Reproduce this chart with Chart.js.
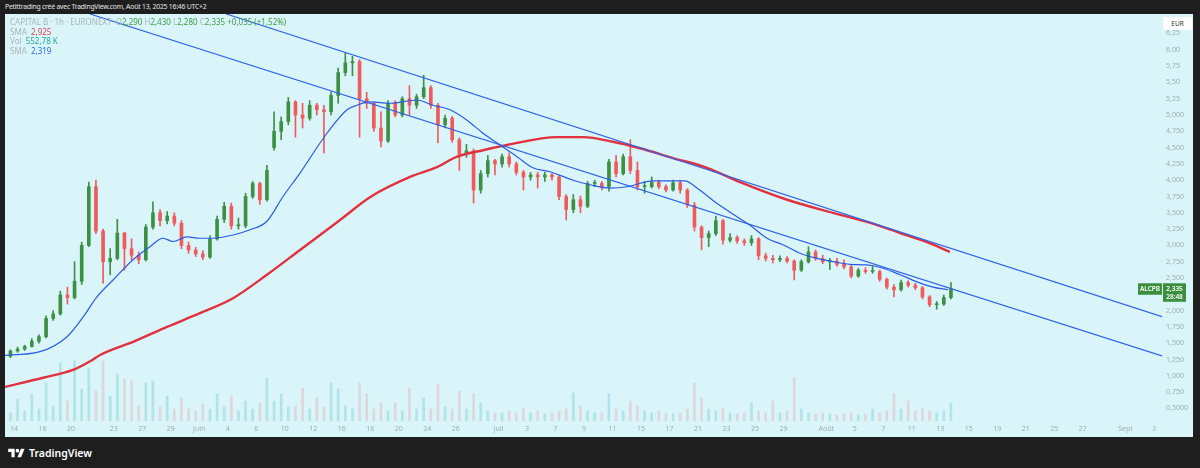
<!DOCTYPE html>
<html lang="fr">
<head>
<meta charset="utf-8">
<script src="https://cdn.jsdelivr.net/npm/chart.js@4.4.1/dist/chart.umd.min.js"></script>
<style>
  html, body { margin: 0; padding: 0; width: 1200px; height: 468px; overflow: hidden; background: #1e1e1e; font-family: 'Noto Sans', sans-serif; }
  #hdr { position: absolute; left: 5px; top: 2px; font-size: 6.8px; letter-spacing: -0.2px; color: #e8e8e8; white-space: nowrap; }
  #frame { position: absolute; left: 5px; top: 14px; width: 1188px; height: 423px; background: #daf5fa; }
  #chart { position: absolute; left: 0; top: 0; }
  #legend { position: absolute; left: 5px; top: 3px; font-size: 8px; line-height: 9.5px; color: #aab3b7; white-space: nowrap; }
  #legend .g { color: #3f9a45; }
  #legend .r { color: #e0444f; }
  #legend .t { color: #26a69a; }
  #legend .b { color: #2962ff; }
  #eur { position: absolute; left: 1158px; top: 3px; width: 29px; height: 13px; background: #fff; font-size: 6.5px; line-height: 13px; text-align: center; color: #333; }
  #footer { position: absolute; left: 8px; top: 446px; display: flex; align-items: center; color: #fff; font-size: 10.5px; font-weight: 600; }
  #footer svg { margin-right: 4px; }
</style>
</head>
<body>
<div id="hdr">Petittrading créé avec TradingView.com, Août 13, 2025 16:46 UTC+2</div>
<div id="frame">
  <canvas id="chart" width="1188" height="423"></canvas>
  <div id="legend">
    <div>CAPITAL B · 1h · EURONEXT &nbsp;O<span class="g">2,290</span> H<span class="g">2,430</span> L<span class="g">2,280</span> C<span class="g">2,335</span> <span class="g">+0,035 (+1,52%)</span></div>
    <div>SMA &nbsp;<span class="r">2,925</span></div>
    <div>Vol &nbsp;<span class="t">552,78 K</span></div>
    <div>SMA &nbsp;<span class="b">2,319</span></div>
  </div>
  <div id="eur">EUR</div>
</div>
<div id="footer">
  <svg width="17" height="12" viewBox="0 0 36 26"><path d="M14 22H7V11H0V4h14v18zM28 22h-8l7.5-18h8L28 22z" fill="#fff"/><circle cx="20" cy="8" r="4" fill="#fff"/></svg>
  TradingView
</div>

<script>
// half-day candles, x in trading days since 14 May (weekends removed)
const candleStart = -0.25;
const candleStep = 0.5;

const opens = [1.30,1.38,1.41,1.45,1.53,1.60,1.88,1.95,2.24,2.20,
  2.45,3.00,3.90,3.22,2.75,2.80,3.19,2.95,2.85,2.78,
  3.28,3.50,3.38,3.45,3.34,3.00,2.93,2.87,2.82,3.10,
  3.40,3.60,3.30,3.30,3.75,3.95,3.70,4.50,4.75,4.90,
  5.20,5.00,4.95,5.15,5.08,5.05,5.30,5.65,5.80,5.82,
  5.25,5.18,4.80,4.60,5.18,5.00,5.25,5.15,5.28,5.42,
  5.15,4.85,4.95,4.62,4.40,4.45,3.85,4.10,4.30,4.25,
  4.36,4.25,4.12,4.05,4.08,4.05,4.08,4.05,3.75,3.55,
  3.70,3.60,3.95,3.95,3.90,4.28,4.10,4.36,4.15,3.90,
  3.90,3.97,3.90,3.85,3.96,3.85,3.62,3.28,3.12,3.18,
  3.38,3.08,3.12,3.07,3.04,3.10,2.84,2.80,2.78,2.80,
  2.76,2.62,2.75,2.90,2.80,2.75,2.76,2.71,2.67,2.53,
  2.62,2.60,2.60,2.48,2.36,2.32,2.43,2.39,2.35,2.21,
  2.09,2.10,2.20];
const highs = [1.40,1.44,1.47,1.57,1.63,1.92,2.00,2.30,2.36,2.75,
  3.05,3.97,4.00,3.25,2.95,3.40,3.20,3.10,2.90,3.32,
  3.67,3.55,3.52,3.50,3.38,3.05,2.97,2.92,3.15,3.45,
  3.66,3.65,3.42,3.80,3.98,3.97,4.23,5.05,4.97,5.27,
  5.22,5.18,5.22,5.18,5.15,5.35,5.72,5.95,5.90,5.85,
  5.35,5.20,5.05,5.22,5.22,5.28,5.45,5.32,5.61,5.45,
  5.18,5.00,4.98,4.65,4.55,4.48,4.15,4.38,4.32,4.40,
  4.42,4.28,4.15,4.12,4.12,4.12,4.10,4.08,3.78,3.78,
  3.76,3.98,4.00,3.98,4.32,4.38,4.40,4.62,4.28,3.98,
  4.05,4.00,3.93,4.00,4.00,3.87,3.66,3.30,3.22,3.45,
  3.40,3.18,3.15,3.10,3.15,3.12,2.88,2.85,2.84,2.83,
  2.78,2.78,2.98,2.93,2.85,2.80,2.80,2.78,2.70,2.65,
  2.66,2.68,2.62,2.50,2.40,2.47,2.46,2.42,2.37,2.23,
  2.14,2.24,2.43];
const lows = [1.28,1.36,1.39,1.44,1.50,1.58,1.85,1.93,2.10,2.18,
  2.40,2.98,3.18,2.42,2.55,2.78,2.62,2.78,2.72,2.76,
  3.25,3.30,3.33,3.30,2.95,2.88,2.83,2.78,2.80,3.08,
  3.35,3.25,3.25,3.27,3.72,3.63,3.68,4.46,4.62,4.85,
  4.66,4.80,4.92,5.00,4.42,5.00,5.18,5.60,5.60,4.66,
  5.10,4.75,4.51,4.58,4.97,4.97,5.00,5.10,5.25,5.10,
  4.57,4.80,4.58,4.15,4.35,3.65,3.80,4.05,4.08,4.20,
  4.20,4.08,3.85,4.00,3.88,3.98,4.00,3.70,3.39,3.50,
  3.50,3.58,3.90,3.85,3.83,4.05,4.08,4.10,3.85,3.80,
  3.88,3.87,3.82,3.83,3.80,3.58,3.22,2.93,2.98,3.15,
  3.02,3.05,3.03,3.00,3.00,2.78,2.76,2.73,2.75,2.73,
  2.47,2.60,2.73,2.77,2.72,2.63,2.68,2.64,2.50,2.51,
  2.57,2.57,2.45,2.33,2.21,2.30,2.36,2.32,2.18,2.06,
  2.02,2.08,2.18];
const closes = [1.38,1.41,1.45,1.53,1.60,1.88,1.95,2.24,2.20,2.45,
  3.00,3.90,3.22,2.75,2.80,3.19,2.95,2.85,2.78,3.28,
  3.50,3.38,3.45,3.34,3.00,2.93,2.87,2.82,3.10,3.40,
  3.60,3.30,3.30,3.75,3.95,3.70,4.15,4.75,4.90,5.20,
  5.00,4.95,5.15,5.08,5.05,5.30,5.65,5.80,5.82,5.25,
  5.18,4.80,4.60,5.18,5.00,5.25,5.15,5.28,5.42,5.15,
  4.85,4.95,4.62,4.40,4.45,3.85,4.10,4.30,4.25,4.36,
  4.25,4.12,4.05,4.08,4.05,4.08,4.05,3.75,3.55,3.70,
  3.60,3.95,3.95,3.90,4.28,4.10,4.36,4.15,3.90,3.90,
  3.97,3.90,3.85,3.96,3.85,3.62,3.28,3.12,3.18,3.38,
  3.08,3.12,3.07,3.04,3.10,2.84,2.80,2.78,2.80,2.76,
  2.62,2.75,2.90,2.80,2.75,2.76,2.71,2.67,2.53,2.62,
  2.60,2.60,2.48,2.36,2.32,2.43,2.39,2.35,2.21,2.09,
  2.10,2.20,2.335];
// volume in thousands of shares
const volumes = [240,660,300,810,360,1140,450,1740,600,1800,
  960,1590,900,1800,750,1410,1260,1200,450,1140,
  1200,420,750,360,690,360,300,510,360,810,
  420,750,300,600,360,540,1290,600,810,420,
  450,990,360,690,420,1140,960,450,360,1140,
  810,360,540,300,540,300,990,360,690,360,
  1110,420,360,900,360,810,540,300,240,240,
  300,240,390,240,300,210,240,300,360,840,
  450,300,240,240,810,360,300,600,450,300,
  240,300,240,210,240,360,1140,690,360,300,
  390,240,210,240,540,300,240,600,240,300,
  1290,360,240,210,240,210,180,210,240,180,
  210,360,240,300,810,360,600,300,360,300,
  240,300,540];

// moving averages
const sma50Days = [-0.98,1.82,3.72,4.84,5.82,6.95,8.35,9.54,10.46,11.16,12.14,13.05,13.96,15.37,16.56,17.75,18.88,20.07,21.96,23.37,24.07,24.98,26.39,28.28,29.40,30.60,31.79,32.91,34.11,35.30,36.42,37.61,39.23,40.42,41.82,43.02,44.84,47.09,47.93,49.05,50.25,51.65,52.84,53.96,55.16,56.35,57.47,58.67,59.86,60.98,62.18,63.37,64.49,65.54];
const sma50 = [1.31,1.37,1.60,1.90,2.21,2.47,2.78,2.98,3.11,3.06,3.13,3.11,3.11,3.16,3.24,3.37,3.75,4.11,4.72,5.08,5.15,5.20,5.18,5.23,5.15,5.08,4.92,4.72,4.54,4.36,4.19,4.13,4.00,3.93,3.88,3.90,3.99,3.99,3.88,3.69,3.51,3.31,3.11,3.01,2.88,2.80,2.75,2.71,2.70,2.65,2.55,2.44,2.36,2.32];
const sma200Days = [-0.63,2.04,4.14,5.47,6.04,8.35,10.74,13.05,15.37,17.75,20.07,22.88,24.98,27.79,29.68,31.09,32.91,34.60,38.11,39.93,42.04,43.93,46.25,48.63,50.95,54.25,57.47,59.86,62.18,64.07,65.68];
const sma200 = [0.83,0.97,1.09,1.24,1.32,1.52,1.75,1.96,2.19,2.55,2.93,3.39,3.74,4.05,4.20,4.36,4.46,4.54,4.66,4.66,4.59,4.49,4.34,4.19,3.97,3.70,3.50,3.36,3.19,3.05,2.90];

// trend lines, [day, price] anchors
const upperTrend = [[14.90, 6.549], [80.56, 1.906]];
const lowerTrend = [[5.33, 6.549], [80.56, 1.304]];

// axis ticks
const dayTicks = [0,2,4,7,9,11,13,15,17,19,21,23,25,27,29,31,34,36,38,40,42,44,46,48,50,52,54,57,59,61,63,65,67,69,71,73,75,78,80];
const dayTickLabels = ['14','16','20','23','27','29','Juin','4','6','10','12','16','18','20','24','26','Juil','3','7','9','11','15','17','21','23','25','29','Août','5','7','11','13','15','19','21','25','27','Sept','3'];
const priceTicks = [0.5,0.75,1,1.25,1.5,1.75,2,2.25,2.5,2.75,3,3.25,3.5,3.75,4,4.25,4.5,4.75,5,5.25,5.5,5.75,6,6.25];
const priceTickLabels = ['0,5000','0,750','1,000','1,250','1,500','1,750','2,000','2,250','2,500','2,750','3,000','3,250','3,500','3,750','4,000','4,250','4,500','4,750','5,000','5,25','5,50','5,75','6,00','6,25'];

const UP = '#3d8f41';
const DOWN = '#ef5a5a';
const font = 'Noto Sans';

const dayOf = i => candleStart + i * candleStep;
const isUp = closes.map((c, i) => c >= opens[i]);

const priceTag = {
  id: 'priceTag',
  afterDraw(chart) {
    const ctx = chart.ctx;
    const last = closes.length - 1;
    const y = chart.scales.y.getPixelForValue(closes[last]);
    const r = chart.chartArea.right;
    ctx.save();
    ctx.fillStyle = '#3a8e3e';
    ctx.fillRect(r - 24, y - 5.5, 24, 11.5);
    ctx.fillRect(r + 1, y - 5.5, 23, 18.5);
    ctx.fillStyle = '#ffffff';
    ctx.font = '600 6.5px ' + font;
    ctx.textBaseline = 'middle';
    ctx.textAlign = 'center';
    ctx.fillText('ALCPB', r - 12, y + 0.2);
    ctx.fillText('2,335', r + 12.5, y);
    ctx.fillText('28:48', r + 12.5, y + 8.5);
    ctx.restore();
  }
};

new Chart(document.getElementById('chart'), {
  type: 'bar',
  data: {
    datasets: [
      {
        label: 'Vol',
        yAxisID: 'yv',
        data: volumes.map((v, i) => ({ x: dayOf(i), y: v })),
        backgroundColor: isUp.map(u => u ? 'rgba(38,166,154,0.22)' : 'rgba(239,83,80,0.18)'),
        barThickness: 2,
        grouped: false,
        order: 10
      },
      {
        label: 'wick',
        data: lows.map((l, i) => ({ x: dayOf(i), y: [l, highs[i]] })),
        backgroundColor: isUp.map(u => u ? UP : DOWN),
        barThickness: 1,
        grouped: false,
        order: 9
      },
      {
        label: 'body',
        data: opens.map((o, i) => ({ x: dayOf(i), y: [o, closes[i]] })),
        backgroundColor: isUp.map(u => u ? UP : DOWN),
        barThickness: 3,
        minBarLength: 1,
        grouped: false,
        order: 8
      },
      {
        type: 'line',
        label: 'SMA 200',
        data: sma200Days.map((d, i) => ({ x: d, y: sma200[i] })),
        borderColor: '#e1313f',
        borderWidth: 2.4,
        pointRadius: 0,
        cubicInterpolationMode: 'monotone',
        order: 3
      },
      {
        type: 'line',
        label: 'SMA 50',
        data: sma50Days.map((d, i) => ({ x: d, y: sma50[i] })),
        borderColor: '#2a5be6',
        borderWidth: 1.2,
        pointRadius: 0,
        cubicInterpolationMode: 'monotone',
        order: 2
      },
      {
        type: 'line',
        label: 'upper',
        data: upperTrend.map(p => ({ x: p[0], y: p[1] })),
        borderColor: '#2f63e8',
        borderWidth: 1.2,
        pointRadius: 0,
        order: 1
      },
      {
        type: 'line',
        label: 'lower',
        data: lowerTrend.map(p => ({ x: p[0], y: p[1] })),
        borderColor: '#2f63e8',
        borderWidth: 1.2,
        pointRadius: 0,
        order: 1
      }
    ]
  },
  options: {
    responsive: false,
    animation: false,
    devicePixelRatio: 1,
    layout: { padding: 0 },
    plugins: { legend: { display: false }, tooltip: { enabled: false } },
    scales: {
      x: {
        type: 'linear',
        min: -0.632,
        max: 80.56,
        offset: false,
        grid: { display: false, drawTicks: false },
        border: { display: false },
        ticks: {
          autoSkip: false,
          maxRotation: 0,
          padding: 4,
          color: '#9fabb0',
          font: { family: font, size: 7 },
          callback: (v, i) => dayTickLabels[i]
        },
        afterBuildTicks: s => { s.ticks = dayTicks.map(v => ({ value: v })); },
        afterFit: s => { s.height = 16; s.paddingLeft = 0; s.paddingRight = 0; }
      },
      y: {
        position: 'right',
        min: 0.307,
        max: 6.549,
        grid: { display: false, drawTicks: false },
        border: { display: false },
        ticks: {
          padding: 4,
          color: '#9fabb0',
          font: { family: font, size: 7 },
          callback: (v, i) => priceTickLabels[i]
        },
        afterBuildTicks: s => { s.ticks = priceTicks.map(v => ({ value: v })); },
        afterFit: s => { s.width = 31; s.paddingTop = 0; s.paddingBottom = 0; }
      },
      yv: { display: false, min: 0, max: 12210 }
    }
  },
  plugins: [priceTag]
});
</script>
</body>
</html>
